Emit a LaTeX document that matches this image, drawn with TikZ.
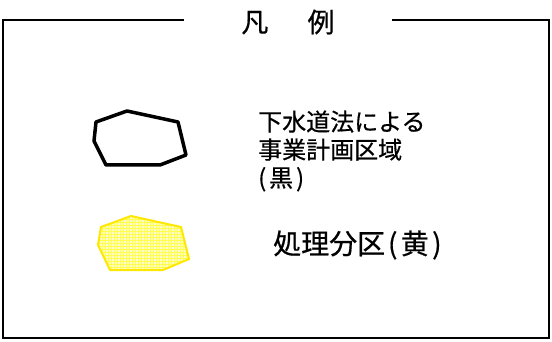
\documentclass[tikz,border=0pt]{standalone}
\usepackage{fontspec}
\setmainfont{Noto Sans CJK JP}[FakeBold=0.6]
\usetikzlibrary{patterns}

\begin{document}
\begin{tikzpicture}[x=1pt,y=-1pt,
		legend/.style={anchor=west,inner sep=0pt,align=left,font=\fontsize{24}{28}\selectfont},
		area/.style={line width=3.5pt,line join=round},
		part/.style={draw=yellow!90!orange,line width=2pt,pattern=grid,pattern color=yellow!70}]
		\useasboundingbox (0,0) rectangle (552,342);
		\node[inner xsep=57pt,font=\fontsize{27}{30}\selectfont] (TITLE) at (288,22) {凡\hspace{1.45em}例};
		\draw[line width=1.5pt] (TITLE.west |- 0,20) -- (3,20) -- (3,338) -- (549,338) -- (549,20) -- (TITLE.east |- 0,20);
		\draw[area] (96,122) -- (127,111) -- (178,122) -- (186,155) -- (160,165) -- (106,165) -- (94,141) -- cycle;
		\fill[yellow!20] (101,227) -- (131,216) -- (181,227) -- (189,259) -- (163,270) -- (110,270) -- (98,245) -- cycle;
		\draw[part] (101,227) -- (131,216) -- (181,227) -- (189,259) -- (163,270) -- (110,270) -- (98,245) -- cycle;
		\node[legend] (PLAN) at (258,151) {下水道法による\\事業計画区域\\(\hspace{0.12em}黒\hspace{0.12em})};
		\node[legend,font=\fontsize{28}{32}\selectfont] (DIST) at (273,245) {処理分区\hspace{0.1em}(\hspace{0.12em}黄\hspace{0.12em})};
	\end{tikzpicture}
\end{document}
